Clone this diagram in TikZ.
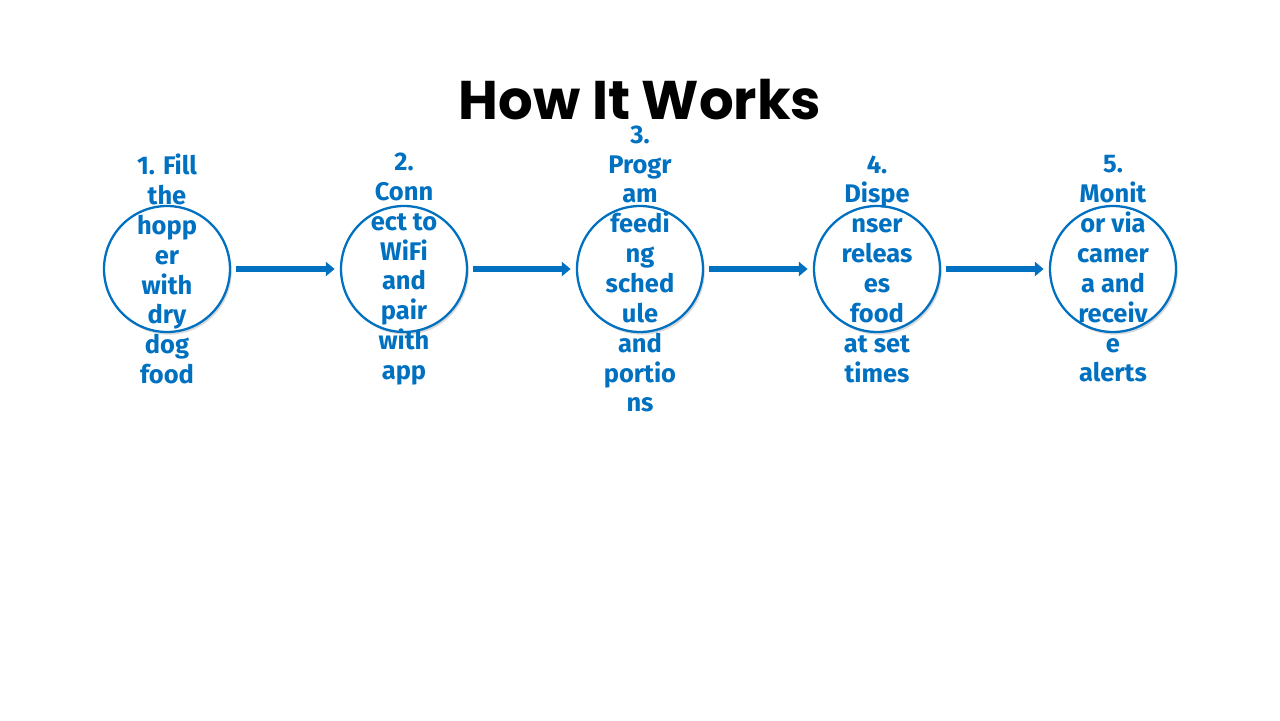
\documentclass[tikz,border=0pt]{standalone}
\usepackage{fontspec}
\setmainfont{Poppins}
\newfontfamily\stepfont{Fira Sans}
\usetikzlibrary{positioning,shadows,arrows.meta}
\definecolor{stepblue}{HTML}{0070C0}
\begin{document}
\begin{tikzpicture}[x=0.02cm,y=-0.02cm,
    stage/.style={draw=stepblue, line width=1.3pt, circle, minimum size=2.52cm, fill=white,
      drop shadow={shadow xshift=1pt, shadow yshift=-1.5pt, opacity=0.3}},
    stagetext/.style={align=center, text=stepblue, font=\stepfont\bfseries\fontsize{14.5}{17}\selectfont},
    flow/.style={-{Triangle[length=5pt,width=8pt]}, line width=3.4pt, draw=stepblue,
      shorten <=3pt, shorten >=3pt}
]
\useasboundingbox (0,0) rectangle (1280,720);

% Title
\node[font=\bfseries\fontsize{31}{38}\selectfont] (title) at (640,100) {How It Works};

% Steps
\node[stage] (fill) at (167,269) {};
\node[stage] (connect) at (404,269) {};
\node[stage] (program) at (640,269) {};
\node[stage] (dispense) at (877,269) {};
\node[stage] (monitor) at (1113,269) {};

\node[stagetext] at (fill) {1. Fill\\the\\hopp\\er\\with\\dry\\dog\\food};
\node[stagetext] at (connect) {2.\\Conn\\ect to\\WiFi\\and\\pair\\with\\app};
\node[stagetext] at (640,269) {3.\\Progr\\am\\feedi\\ng\\sched\\ule\\and\\portio\\ns};
\node[stagetext] at (dispense) {4.\\Dispe\\nser\\releas\\es\\food\\at set\\times};
\node[stagetext] at (monitor) {5.\\Monit\\or via\\camer\\a and\\receiv\\e\\alerts};

% Arrows
\draw[flow] (fill) -- (connect);
\draw[flow] (connect) -- (program);
\draw[flow] (program) -- (dispense);
\draw[flow] (dispense) -- (monitor);
\end{tikzpicture}
\end{document}
